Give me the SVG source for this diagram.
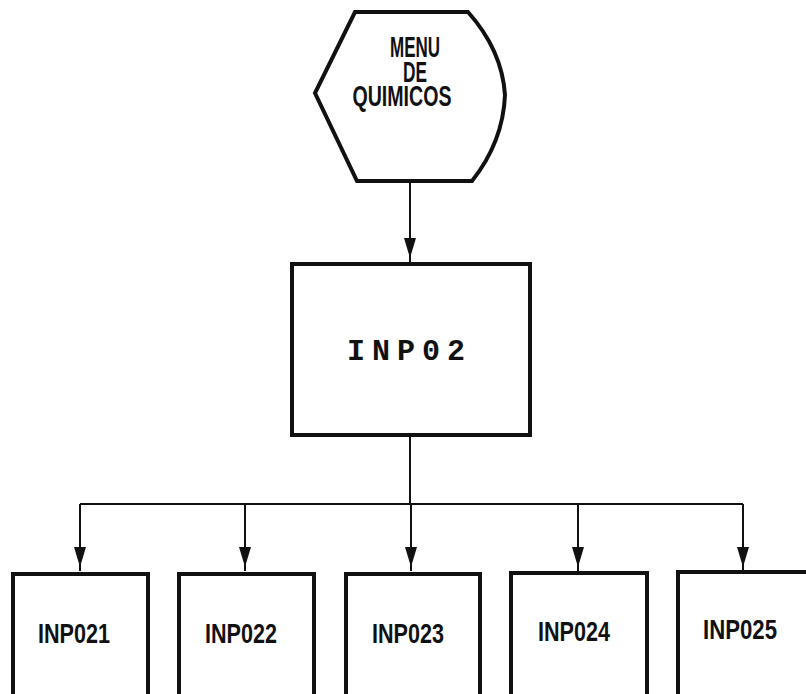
<svg xmlns="http://www.w3.org/2000/svg" width="806" height="694" viewBox="0 0 806 694">
<style>
.shape{fill:#fff;stroke:#111;stroke-width:4;stroke-linejoin:miter}
.conn{fill:none;stroke:#111;stroke-width:2}
.lbl{font-family:"Liberation Sans",Arial,sans-serif;font-weight:bold;fill:#111;text-anchor:middle}
.mono{font-family:"Liberation Mono","DejaVu Sans Mono",monospace;font-weight:bold;fill:#111;text-anchor:middle}
</style>
<defs>
<marker id="arr" markerUnits="userSpaceOnUse" markerWidth="24" markerHeight="14" viewBox="0 -7 24 14" refX="24" refY="0" orient="auto">
<path d="M0,-6 L20,0 L0,6 z" fill="#111"/>
</marker>
</defs>
<rect width="806" height="694" fill="#fff"/>
<g id="connectors">
<line class="conn" x1="410" y1="183" x2="410" y2="262" marker-end="url(#arr)"/>
<line class="conn" x1="410" y1="437" x2="410" y2="504"/>
<line class="conn" x1="80" y1="504" x2="743" y2="504"/>
<line class="conn" x1="80" y1="504" x2="80" y2="571" marker-end="url(#arr)"/>
<line class="conn" x1="245" y1="504" x2="245" y2="571" marker-end="url(#arr)"/>
<line class="conn" x1="411" y1="504" x2="411" y2="571" marker-end="url(#arr)"/>
<line class="conn" x1="578" y1="504" x2="578" y2="571" marker-end="url(#arr)"/>
<line class="conn" x1="743" y1="504" x2="743" y2="571" marker-end="url(#arr)"/>
</g>
<g id="menu">
<path class="shape" d="M355,12 L468,12 Q502,50 505,95 Q503,142 472,181 L357,181 L315,93 Z"/>
<text class="lbl" x="415" y="57" font-size="29" textLength="50" lengthAdjust="spacingAndGlyphs">MENU</text>
<text class="lbl" x="415" y="82" font-size="29" textLength="24" lengthAdjust="spacingAndGlyphs">DE</text>
<text class="lbl" x="402" y="106" font-size="29" textLength="99" lengthAdjust="spacingAndGlyphs">QUIMICOS</text>
</g>
<g id="inp02">
<rect class="shape" x="292" y="264" width="238" height="171"/>
<text class="mono" x="406" y="360" font-size="30" textLength="118" lengthAdjust="spacing">INP02</text>
</g>
<g id="inp021">
<rect class="shape" x="13" y="574" width="135" height="122"/>
<text class="lbl" x="74" y="643" font-size="28" textLength="72" lengthAdjust="spacingAndGlyphs">INP021</text>
</g>
<g id="inp022">
<rect class="shape" x="179" y="574" width="135" height="122"/>
<text class="lbl" x="241" y="643" font-size="28" textLength="72" lengthAdjust="spacingAndGlyphs">INP022</text>
</g>
<g id="inp023">
<rect class="shape" x="346" y="574" width="134" height="122"/>
<text class="lbl" x="408" y="643" font-size="28" textLength="72" lengthAdjust="spacingAndGlyphs">INP023</text>
</g>
<g id="inp024">
<rect class="shape" x="511" y="573" width="136" height="123"/>
<text class="lbl" x="574" y="641" font-size="28" textLength="72" lengthAdjust="spacingAndGlyphs">INP024</text>
</g>
<g id="inp025">
<rect class="shape" x="678" y="572" width="130" height="124"/>
<text class="lbl" x="740" y="639" font-size="28" textLength="74" lengthAdjust="spacingAndGlyphs">INP025</text>
</g>
</svg>
